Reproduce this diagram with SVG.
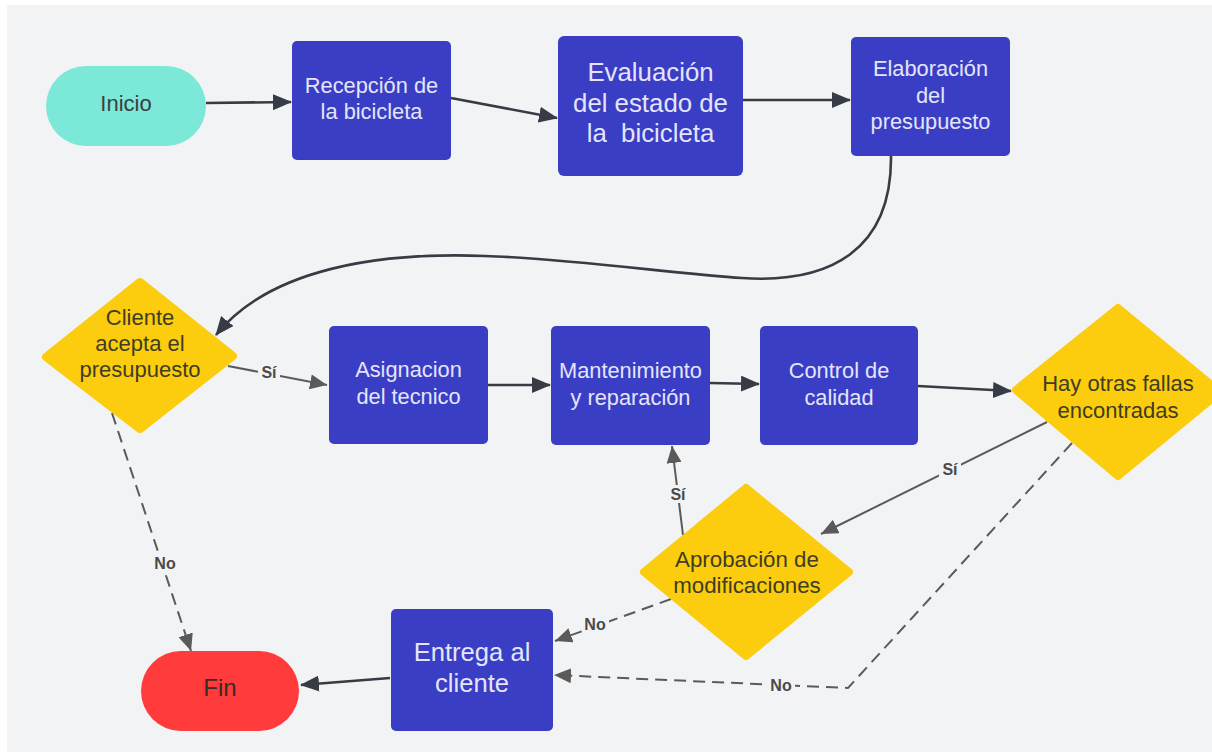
<svg xmlns="http://www.w3.org/2000/svg" width="1212" height="752" viewBox="0 0 1212 752">
<defs>
<marker id="ad" markerUnits="userSpaceOnUse" markerWidth="20" markerHeight="16" refX="18" refY="8" orient="auto"><path d="M0,0 L19,8 L0,16 z" fill="#363b45"/></marker>
<marker id="ag" markerUnits="userSpaceOnUse" markerWidth="18" markerHeight="15" refX="17" refY="7.5" orient="auto"><path d="M0,0 L17,7.5 L0,15 z" fill="#5a5a5a"/></marker>
</defs>
<style>
.box{fill:#3a3ec4}
.dia{fill:#fbcd0e;stroke:#fbcd0e;stroke-width:8;stroke-linejoin:round}
.bt{font-family:"Liberation Sans",Arial,sans-serif;font-size:21.8px;fill:#e4e5fb;text-anchor:middle;dominant-baseline:central}
.dt{font-family:"Liberation Sans",Arial,sans-serif;font-size:22px;fill:#3f3d22;text-anchor:middle;dominant-baseline:central}
.main{fill:none;stroke:#363b45;stroke-width:2.6}
.lab{fill:none;stroke:#5a5a5a;stroke-width:2}
.dash{stroke-dasharray:12 7}
.lt{font-family:"Liberation Sans",Arial,sans-serif;font-size:16px;font-weight:bold;fill:#4a4a4a;text-anchor:middle;dominant-baseline:central}
.lb{fill:#f2f3f5}
</style>
<rect x="0" y="0" width="1212" height="752" fill="#ffffff"/>
<rect x="7" y="5" width="1205" height="747" fill="#f2f3f5"/>

<g id="connectors">
<path class="main" d="M206,103 L291,102" marker-end="url(#ad)"/>
<path class="main" d="M451,98 L557,118" marker-end="url(#ad)"/>
<path class="main" d="M743,100 L850,100" marker-end="url(#ad)"/>
<path class="main" d="M891,156 C892,250 830,284 742,278 C680,274 560,258 485,256 C380,252 270,268 216,335" marker-end="url(#ad)"/>
<path class="lab" d="M228,366 L327,385" marker-end="url(#ag)"/>
<path class="main" d="M488,385 L550,385" marker-end="url(#ad)"/>
<path class="main" d="M710,383 L759,384" marker-end="url(#ad)"/>
<path class="main" d="M918,386 L1011,391" marker-end="url(#ad)"/>
<path class="lab" d="M1047,422 L821,534" marker-end="url(#ag)"/>
<path class="lab dash" d="M1072,443 L848,688 L554,675" marker-end="url(#ag)"/>
<path class="lab dash" d="M671,599 L555,641" marker-end="url(#ag)"/>
<path class="lab" d="M683,535 L672,446" marker-end="url(#ag)"/>
<path class="lab dash" d="M112,413 L191,651" marker-end="url(#ag)"/>
<path class="main" d="M390,678 L301,685" marker-end="url(#ad)"/>
<rect class="lb" x="258" y="363" width="22" height="18"/>
<text class="lt" x="269" y="372">Sí</text>
<rect class="lb" x="939" y="460" width="22" height="18"/>
<text class="lt" x="950" y="469">Sí</text>
<rect class="lb" x="668" y="485" width="20" height="18"/>
<text class="lt" x="678" y="494">Sí</text>
<rect class="lb" x="582" y="615" width="27" height="18"/>
<text class="lt" x="595" y="624">No</text>
<rect class="lb" x="767" y="676" width="28" height="18"/>
<text class="lt" x="781" y="685">No</text>
<rect class="lb" x="151" y="554" width="28" height="18"/>
<text class="lt" x="165" y="563">No</text>
</g>

<g id="inicio">
<rect x="46" y="66" width="160" height="80" rx="40" fill="#7be8d8"/>
<text class="dt" x="126" y="103" style="fill:#3a3f3f">Inicio</text>
</g>
<g id="recepcion">
<rect class="box" x="292" y="41" width="159" height="119" rx="5"/>
<text class="bt" x="371.5" y="85">Recepción de</text>
<text class="bt" x="371.5" y="111">la bicicleta</text>
</g>
<g id="evaluacion">
<rect class="box" x="558" y="36" width="185" height="140" rx="6"/>
<text class="bt" x="650.5" y="72" style="font-size:25.8px">Evaluación</text>
<text class="bt" x="650.5" y="103" style="font-size:25.8px">del estado de</text>
<text class="bt" x="650.5" y="133" style="font-size:25.8px;white-space:pre" xml:space="preserve">la  bicicleta</text>
</g>
<g id="elaboracion">
<rect class="box" x="851" y="37" width="159" height="119" rx="5"/>
<text class="bt" x="930.5" y="68">Elaboración</text>
<text class="bt" x="930.5" y="95">del</text>
<text class="bt" x="930.5" y="121">presupuesto</text>
</g>
<g id="cliente">
<path class="dia" d="M140,282 L233,356 L140,429 L46,357 z"/>
<text class="dt" x="140" y="317">Cliente</text>
<text class="dt" x="140" y="343">acepta el</text>
<text class="dt" x="140" y="369">presupuesto</text>
</g>
<g id="asignacion">
<rect class="box" x="329" y="326" width="159" height="118" rx="5"/>
<text class="bt" x="408.5" y="369">Asignacion</text>
<text class="bt" x="408.5" y="396">del tecnico</text>
</g>
<g id="mantenimiento">
<rect class="box" x="551" y="326" width="159" height="119" rx="5"/>
<text class="bt" x="630.5" y="370">Mantenimiento</text>
<text class="bt" x="630.5" y="397">y reparación</text>
</g>
<g id="control">
<rect class="box" x="760" y="326" width="158" height="119" rx="5"/>
<text class="bt" x="839" y="370">Control de</text>
<text class="bt" x="839" y="397">calidad</text>
</g>
<g id="hay-otras">
<path class="dia" d="M1118,308 L1220,392 L1118,476 L1016,390 z"/>
<text class="dt" x="1118" y="383">Hay otras fallas</text>
<text class="dt" x="1118" y="410">encontradas</text>
</g>
<g id="aprobacion">
<path class="dia" d="M746,488 L849,572 L746,656 L644,572 z"/>
<text class="dt" x="747" y="559" style="font-size:22.3px">Aprobación de</text>
<text class="dt" x="747" y="585" style="font-size:22.3px">modificaciones</text>
</g>
<g id="entrega">
<rect class="box" x="391" y="609" width="162" height="122" rx="5"/>
<text class="bt" x="472" y="652" style="font-size:25.6px">Entrega al</text>
<text class="bt" x="472" y="683" style="font-size:25.6px">cliente</text>
</g>
<g id="fin">
<rect x="141" y="651" width="158" height="80" rx="40" fill="#ff3b3b"/>
<text class="dt" x="220" y="687" style="font-size:24px;fill:#3a2a2a">Fin</text>
</g>
</svg>
